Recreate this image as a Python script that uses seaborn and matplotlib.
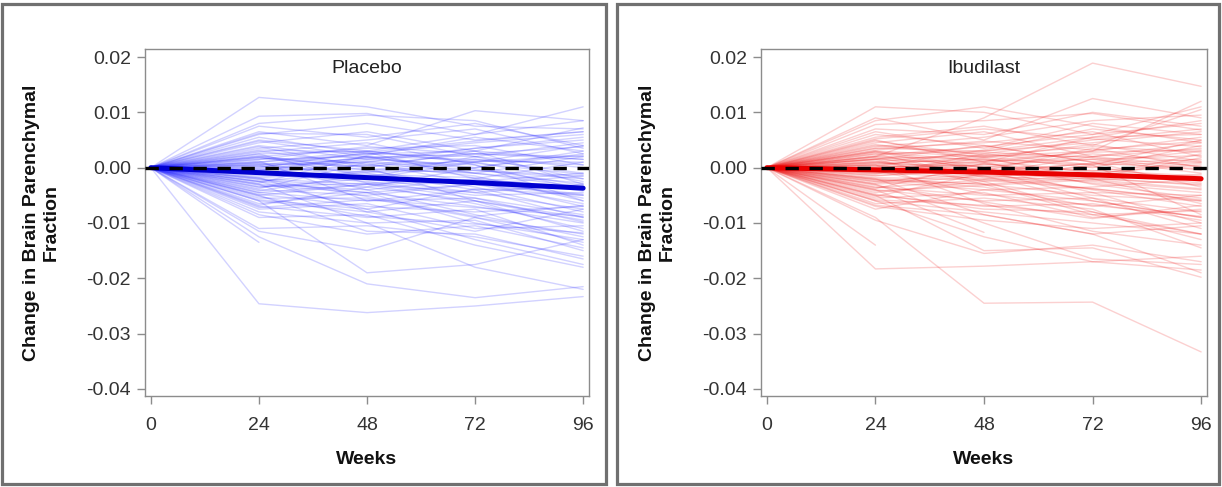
import numpy as np
import pandas as pd
import matplotlib
matplotlib.use("Agg")
import matplotlib.pyplot as plt
from matplotlib.patches import Rectangle
import seaborn as sns

nan = np.nan
weeks = [0, 24, 48, 72, 96]
tick_weeks = [0, 24, 48, 72, 96]
y_ticks = [-0.04, -0.03, -0.02, -0.01, 0.00, 0.01, 0.02]
panel_titles = ["Placebo", "Ibudilast"]

# ---- Placebo: change in BPF per subject at each visit (week 0 = 0) ----
placebo_w24 = [0.0127, 0.0093, 0.0065, 0.0050, 0.0060, 0.0075, 0.0045, 0.0055, 0.0035, 0.0040,
               0.0025, 0.0030, 0.0020, 0.0015, 0.0022, 0.0010, 0.0005, 0.0018, 0.0000, -0.0005,
               0.0020, 0.0008, -0.0010, -0.0015, -0.0020, -0.0012, -0.0025, -0.0030, -0.0022, -0.0035,
               -0.0040, -0.0032, -0.0045, -0.0050, -0.0048, -0.0055, -0.0060, -0.0065, -0.0070, -0.0075,
               -0.0080, -0.0085, -0.0110, -0.0115, -0.0125, -0.0246, -0.0135, -0.0060, -0.0030, -0.0090,
               -0.0050, -0.0025, 0.0005, 0.0012, -0.0018, 0.0038, 0.0028, 0.0048, -0.0008, -0.0038,
               -0.0068, 0.0062, 0.0080, -0.0028, 0.0002, -0.0010, -0.0003, 0.0032, 0.0015, -0.0042,
               -0.0058, -0.0020, 0.0025, -0.0002, 0.0008, -0.0005, 0.0005, -0.0010, 0.0010, -0.0018,
               -0.0035, -0.0025, 0.0002, -0.0045, 0.0018, -0.0072, -0.0052]
placebo_w48 = [0.0110, 0.0098, 0.0040, 0.0030, 0.0080, 0.0055, 0.0065, 0.0025, 0.0050, 0.0015,
               0.0030, 0.0005, 0.0035, 0.0020, -0.0005, 0.0025, 0.0010, 0.0000, 0.0028, 0.0015,
               -0.0015, -0.0020, 0.0005, -0.0010, -0.0030, -0.0025, -0.0005, -0.0040, -0.0035, -0.0020,
               -0.0050, -0.0045, -0.0060, -0.0030, -0.0070, -0.0055, -0.0080, -0.0045, -0.0090, -0.0065,
               -0.0100, -0.0120, -0.0105, -0.0150, -0.0210, -0.0262, nan, -0.0190, -0.0100, -0.0085,
               -0.0115, -0.0075, -0.0040, -0.0060, -0.0080, 0.0000, 0.0045, 0.0020, -0.0018, 0.0010,
               -0.0035, 0.0060, 0.0095, 0.0022, -0.0008, -0.0015, -0.0002, 0.0028, 0.0038, -0.0012,
               -0.0075, -0.0052, -0.0028, 0.0018, 0.0003, 0.0020, 0.0025, 0.0012, 0.0030, -0.0008,
               -0.0028, -0.0045, 0.0018, -0.0030, 0.0008, -0.0058, -0.0088]
placebo_w72 = [0.0075, 0.0060, 0.0103, 0.0060, 0.0050, 0.0080, 0.0030, 0.0045, 0.0070, 0.0035,
               0.0010, 0.0025, 0.0040, 0.0000, 0.0015, 0.0020, -0.0010, 0.0030, -0.0020, 0.0005,
               -0.0030, 0.0010, -0.0015, -0.0040, -0.0025, -0.0050, -0.0035, -0.0020, -0.0060, -0.0045,
               -0.0030, -0.0070, -0.0055, -0.0065, -0.0080, -0.0090, -0.0060, -0.0100, -0.0075, -0.0110,
               -0.0095, -0.0105, -0.0125, -0.0090, -0.0235, -0.0250, nan, -0.0175, -0.0180, -0.0140,
               -0.0120, -0.0130, -0.0085, -0.0040, -0.0115, -0.0060, 0.0005, -0.0010, 0.0020, 0.0035,
               0.0000, 0.0020, 0.0085, 0.0055, -0.0005, -0.0025, -0.0010, 0.0048, 0.0025, -0.0018,
               -0.0038, -0.0088, -0.0055, -0.0002, 0.0012, 0.0015, 0.0030, -0.0005, 0.0008, 0.0010,
               -0.0022, -0.0030, 0.0025, -0.0045, -0.0028, -0.0072, -0.0102]
placebo_w96 = [0.0070, 0.0085, 0.0085, 0.0110, 0.0065, 0.0040, 0.0072, 0.0060, 0.0025, 0.0050,
               0.0040, 0.0015, 0.0005, 0.0030, -0.0010, -0.0020, 0.0020, -0.0030, 0.0010, -0.0040,
               -0.0050, -0.0025, -0.0060, -0.0035, -0.0070, -0.0045, -0.0080, -0.0055, -0.0090, -0.0030,
               -0.0065, -0.0100, -0.0085, -0.0110, -0.0070, -0.0120, -0.0095, -0.0130, -0.0140, -0.0105,
               -0.0150, -0.0145, -0.0160, -0.0135, -0.0215, -0.0233, nan, -0.0130, -0.0220, -0.0180,
               -0.0165, -0.0175, -0.0125, -0.0090, -0.0075, -0.0115, -0.0060, -0.0035, 0.0045, 0.0055,
               0.0025, 0.0000, 0.0035, 0.0030, -0.0015, -0.0010, -0.0028, 0.0065, 0.0020, -0.0042,
               -0.0050, -0.0068, -0.0098, -0.0032, 0.0010, 0.0005, 0.0015, -0.0020, -0.0012, 0.0022,
               -0.0035, -0.0015, 0.0038, -0.0075, -0.0048, -0.0088, -0.0118]
placebo_mean = [0.0, -0.0009, -0.0018, -0.0027, -0.0037]

# ---- Ibudilast ----
ibud_w24 = [0.0020, 0.0110, 0.0090, 0.0030, 0.0085, 0.0070, 0.0055, 0.0065, 0.0045, 0.0050,
            0.0035, 0.0040, 0.0025, 0.0030, 0.0015, 0.0020, 0.0010, 0.0005, 0.0018, 0.0000,
            -0.0005, 0.0012, -0.0010, -0.0015, -0.0020, -0.0008, -0.0025, -0.0030, -0.0035, -0.0022,
            -0.0040, -0.0045, -0.0050, -0.0055, -0.0060, -0.0065, -0.0070, -0.0095, -0.0090, -0.0183,
            -0.0140, -0.0040, -0.0050, -0.0030, -0.0020, -0.0060, 0.0005, 0.0015, 0.0028, 0.0042,
            0.0060, -0.0012, -0.0038, -0.0052, 0.0038, 0.0022, 0.0078, 0.0002, -0.0002, 0.0008,
            -0.0018, -0.0028, 0.0010, 0.0025, -0.0042, -0.0005, 0.0048, -0.0032, 0.0000, 0.0015,
            -0.0010, -0.0025, 0.0032, -0.0068, -0.0048, 0.0003, -0.0007, 0.0052, -0.0075, 0.0020,
            0.0008, -0.0003, 0.0016, -0.0014, 0.0028, -0.0022, 0.0005, -0.0036, 0.0035, -0.0058]
ibud_w48 = [0.0090, 0.0100, 0.0050, 0.0020, 0.0110, 0.0060, 0.0075, 0.0035, 0.0065, 0.0010,
            0.0045, 0.0025, 0.0030, 0.0000, 0.0040, 0.0015, -0.0005, 0.0020, -0.0015, 0.0005,
            0.0010, -0.0025, -0.0010, 0.0000, -0.0030, -0.0020, -0.0040, -0.0015, -0.0050, -0.0035,
            -0.0060, -0.0025, -0.0070, -0.0045, -0.0080, -0.0055, -0.0095, -0.0155, -0.0245, -0.0178,
            nan, -0.0117, -0.0150, -0.0100, -0.0085, -0.0125, -0.0065, -0.0030, -0.0005, 0.0018,
            0.0040, 0.0025, 0.0008, -0.0010, 0.0055, 0.0038, 0.0085, 0.0032, -0.0008, 0.0002,
            -0.0022, -0.0002, 0.0028, -0.0018, -0.0032, -0.0048, 0.0022, -0.0062, 0.0012, 0.0008,
            0.0018, -0.0012, 0.0048, -0.0085, -0.0075, -0.0003, 0.0006, 0.0070, -0.0040, 0.0000,
            0.0015, -0.0015, 0.0022, -0.0005, 0.0012, -0.0030, -0.0008, -0.0022, 0.0030, -0.0068]
ibud_w72 = [0.0189, 0.0060, 0.0125, 0.0030, 0.0075, 0.0100, 0.0040, 0.0080, 0.0020, 0.0055,
            0.0065, 0.0005, 0.0045, 0.0025, 0.0010, -0.0010, 0.0035, 0.0000, -0.0025, 0.0015,
            -0.0030, -0.0015, -0.0040, -0.0020, -0.0050, 0.0005, -0.0035, -0.0060, -0.0045, -0.0070,
            -0.0055, -0.0080, -0.0065, -0.0090, -0.0100, -0.0075, -0.0110, -0.0140, -0.0243, -0.0170,
            nan, nan, -0.0145, -0.0165, -0.0120, -0.0170, -0.0115, -0.0085, -0.0055, -0.0020,
            0.0010, 0.0050, 0.0030, 0.0020, 0.0085, 0.0060, 0.0098, 0.0070, 0.0008, -0.0005,
            -0.0010, -0.0028, 0.0018, -0.0038, -0.0022, -0.0068, 0.0038, -0.0092, 0.0028, -0.0018,
            0.0042, 0.0002, 0.0032, -0.0120, -0.0080, -0.0013, -0.0006, 0.0052, -0.0060, -0.0045,
            0.0005, -0.0008, 0.0020, -0.0022, 0.0015, -0.0018, 0.0008, -0.0038, 0.0055, -0.0085]
ibud_w96 = [0.0147, 0.0080, 0.0090, 0.0120, 0.0045, 0.0075, 0.0105, 0.0060, 0.0035, 0.0085,
            0.0020, 0.0050, 0.0065, 0.0010, 0.0030, -0.0020, 0.0000, 0.0040, -0.0040, -0.0010,
            -0.0055, 0.0025, -0.0070, -0.0030, -0.0060, -0.0085, -0.0020, -0.0090, -0.0100, -0.0050,
            -0.0110, -0.0120, -0.0095, -0.0075, -0.0120, -0.0145, -0.0100, -0.0170, -0.0333, -0.0185,
            nan, nan, -0.0198, -0.0175, -0.0190, -0.0160, -0.0140, -0.0120, -0.0080, -0.0065,
            -0.0035, 0.0070, 0.0055, 0.0045, 0.0095, 0.0110, 0.0068, 0.0050, 0.0015, -0.0015,
            0.0005, -0.0045, -0.0005, -0.0060, -0.0038, -0.0088, 0.0028, -0.0068, 0.0032, 0.0018,
            0.0012, -0.0025, 0.0048, -0.0105, -0.0130, -0.0022, 0.0008, 0.0038, -0.0090, -0.0050,
            0.0010, -0.0028, 0.0002, -0.0012, 0.0022, -0.0032, -0.0002, -0.0058, 0.0060, -0.0078]
ibud_mean = [0.0, -0.0004, -0.0008, -0.0013, -0.0020]


def long_table(w24, w48, w72, w96):
    n = len(w24)
    cols = [[0.0] * n, w24, w48, w72, w96]
    rows = []
    for s in range(n):
        for wk, col in zip(weeks, cols):
            rows.append((s, wk, col[s]))
    return pd.DataFrame(rows, columns=["subject", "week", "bpf"]).dropna()


df_p = long_table(placebo_w24, placebo_w48, placebo_w72, placebo_w96)
df_i = long_table(ibud_w24, ibud_w48, ibud_w72, ibud_w96)

sns.set_style("white")
plt.rcParams["font.family"] = ["Liberation Sans", "DejaVu Sans"]

W, H = 1222, 487
fig = plt.figure(figsize=(W / 100, H / 100), dpi=100)

# panel frames
for x0, x1 in [(2, 606), (617, 1219)]:
    fig.patches.append(Rectangle((x0 / W, 3 / H), (x1 - x0) / W, (483 - 3) / H,
                                 transform=fig.transFigure, fill=False,
                                 edgecolor="#707070", linewidth=2.3))

panels = [
    dict(left=145, right=589, df=df_p, mean=placebo_mean, line="#2020ff", meanc="#0000d0", a=0.2),
    dict(left=761, right=1207, df=df_i, mean=ibud_mean, line="#ee1515", meanc="#e80000", a=0.2),
]
top, bottom = 49, 396

for p, title in zip(panels, panel_titles):
    ax = fig.add_axes([p["left"] / W, 1 - bottom / H, (p["right"] - p["left"]) / W, (bottom - top) / H])
    sns.lineplot(data=p["df"], x="week", y="bpf", units="subject", estimator=None,
                 color=p["line"], alpha=p["a"], linewidth=1.0, ax=ax, legend=False)
    sns.lineplot(x=weeks, y=p["mean"], color=p["meanc"], linewidth=3.6, ax=ax, legend=False)
    ax.axhline(0, color="black", linewidth=2.4, dashes=(4, 3.2), zorder=5)

    ax.set_xlim(-1.3, 97.3)
    ax.set_ylim(-0.04127, 0.02145)
    ax.set_xticks(tick_weeks)
    ax.set_xticklabels([str(t) for t in tick_weeks])
    ax.set_yticks(y_ticks)
    ax.set_yticklabels([f"{v:.2f}" for v in y_ticks])
    for s in ax.spines.values():
        s.set_color("#8c8c8c")
        s.set_linewidth(1.0)
    ax.tick_params(axis="both", direction="out", length=6, width=1.0, color="#8c8c8c",
                   labelcolor="#333333", labelsize=14)
    ax.tick_params(axis="x", pad=9)
    ax.tick_params(axis="y", pad=4)
    ax.tick_params(left=True, bottom=True)

    ax.set_xlabel("Weeks", fontsize=14, fontweight="bold", color="#111111", va="center")
    ax.xaxis.set_label_coords(0.5, -64 / (bottom - top))
    ax.set_ylabel("Change in Brain Parenchymal\nFraction", fontsize=14, fontweight="bold",
                  color="#111111", va="center", linespacing=1.2)
    ax.yaxis.set_label_coords(-104 / (p["right"] - p["left"]), 0.5)
    ax.text(0.5, 0.945, title, transform=ax.transAxes, ha="center", va="center",
            fontsize=14, color="#222222")

fig.savefig("out.png", dpi=100)
